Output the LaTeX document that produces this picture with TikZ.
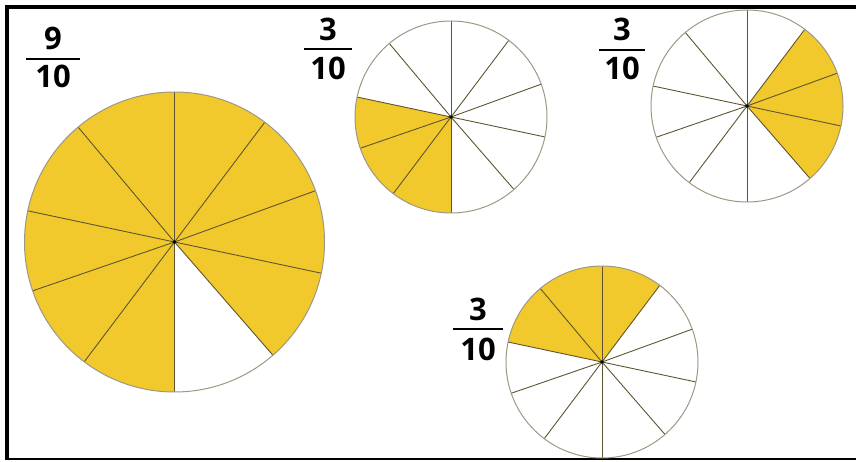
\documentclass[tikz,border=0pt]{standalone}
\usepackage{fontspec}
\setsansfont{Open Sans}
\usetikzlibrary{calc,positioning}
\definecolor{PieYellow}{HTML}{F2C92C}
\definecolor{SpokeOlive}{HTML}{5F5431}
\definecolor{RimGrey}{HTML}{9C9883}

% pie with ten wedges: centre, radius, yellow from angle, yellow to angle
\newcommand{\tenthpie}[4]{%
  \fill[PieYellow] (#1) -- ++(#3:#2) arc[start angle=#3, end angle=#4, radius=#2] -- cycle;
  \foreach \a in {90,53,20,-12,-49,-90,-127,-161,168,130}
    \draw[spoke] (#1) -- ++(\a:#2);
  \draw[rim] (#1) circle[radius=#2];
  \fill[black] (#1) circle[radius=1.8];}

\begin{document}
\begin{tikzpicture}[x=1pt, y=1pt,
  spoke/.style={draw=SpokeOlive, line width=0.9pt},
  rim/.style={draw=RimGrey, line width=1pt},
  digits/.style={font=\sffamily\bfseries\fontsize{31}{31}\selectfont, inner sep=0pt, anchor=base},
  bar/.style={line width=1.6pt}]
  \useasboundingbox (0,0) rectangle (856,461);
  % frame
  \draw[line width=4pt] (5,454) -- (856,454);
  \draw[line width=4pt] (7,456) -- (7,1.5);
  \draw[line width=1.5pt] (5,2) -- (856,2);
  % pies
  \coordinate (big) at (174.5,219);
  \coordinate (topmid) at (451,344);
  \coordinate (topright) at (747,355);
  \coordinate (low) at (602,99);
  \tenthpie{big}{150}{-49}{270}
  \tenthpie{topmid}{96}{168}{270}
  \tenthpie{topright}{96}{-49}{53}
  \tenthpie{low}{96}{53}{168}
  % fractions
  \node[digits] (nine) at (53,411) {9};
  \node[digits] (nineden) at (53,373) {10};
  \draw[bar] ($(nine.base)+(-27,-9)$) -- ++(54,0);
  \node[digits] (midnum) at (328,420) {3};
  \node[digits] (midden) at (328,381) {10};
  \draw[bar] ($(midnum.base)+(-24,-8)$) -- ++(48,0);
  \node[digits] (rightnum) at (622,420) {3};
  \node[digits] (rightden) at (622,381) {10};
  \draw[bar] ($(rightnum.base)+(-23,-9)$) -- ++(46,0);
  \node[digits] (lownum) at (478,141) {3};
  \node[digits] (lowden) at (478,101) {10};
  \draw[bar] ($(lownum.base)+(-25,-9)$) -- ++(50,0);
\end{tikzpicture}
\end{document}
